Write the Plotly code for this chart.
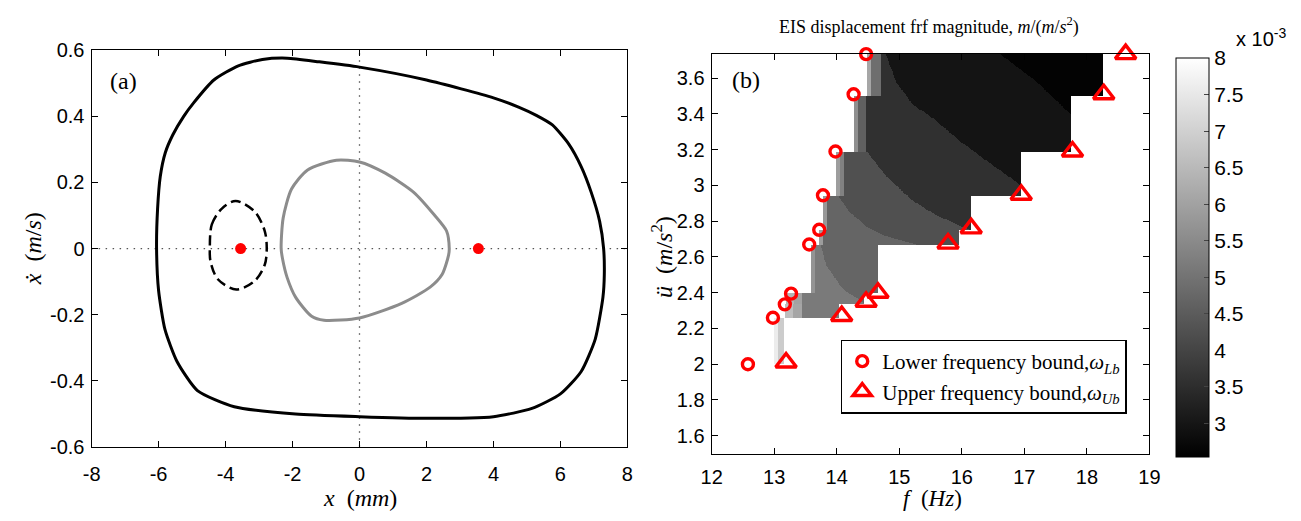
import numpy as np
import plotly.graph_objects as go

# ---------------- data: panel (a) phase portrait ----------------
outer_x = [-6.06, -6.03, -5.95, -5.8, -5.57, -5.25, -4.96, -4.35, -3.62, -2.9, -2.16, -1.2, 0.0, 2.0, 4.0,
           4.75, 5.28, 5.76, 6.25, 6.62, 6.92, 7.17, 7.29, 7.31, 7.27, 7.04, 6.62, 6.0, 5.15, 4.0, 2.0, 0.0,
           -1.91, -3.74, -4.84, -5.45, -5.81, -6.0, -6.06]
outer_y = [0.0, 0.12, 0.218, 0.29, 0.345, 0.40, 0.44, 0.51, 0.553, 0.572, 0.576, 0.565, 0.549, 0.51, 0.456,
           0.428, 0.403, 0.374, 0.316, 0.248, 0.17, 0.083, 0.0, -0.08, -0.147, -0.274, -0.372, -0.44, -0.484, -0.509, -0.514, -0.509,
           -0.501, -0.479, -0.43, -0.342, -0.245, -0.127, 0.0]

gray_x = [-2.34, -2.28, -2.03, -1.55, -0.69, 0.0, 0.77, 1.62, 2.23, 2.6, 2.68, 2.66, 2.47, 2.11, 1.26, 0.0,
          -1.06, -1.43, -1.91, -2.16, -2.3, -2.34]
gray_y = [0.0, 0.092, 0.18, 0.238, 0.267, 0.262, 0.228, 0.17, 0.102, 0.053, 0.0, -0.02, -0.078, -0.117, -0.166, -0.21,
          -0.217, -0.205, -0.147, -0.088, -0.03, 0.0]

dash_x = [-4.47, -4.41, -4.11, -3.70, -3.13, -2.83, -2.77, -2.83, -3.13, -3.68, -4.23, -4.45, -4.47]
dash_y = [0.0, 0.073, 0.121, 0.144, 0.112, 0.053, 0.0, -0.049, -0.098, -0.124, -0.093, -0.039, 0.0]

eq_x = [-3.55, 3.55]
eq_y = [0.0, 0.0]

a_xticks = [-8, -6, -4, -2, 0, 2, 4, 6, 8]
a_xlabels = ["-8", "-6", "-4", "-2", "0", "2", "4", "6", "8"]
a_yticks = [-0.6, -0.4, -0.2, 0, 0.2, 0.4, 0.6]
a_ylabels = ["-0.6", "-0.4", "-0.2", "0", "0.2", "0.4", "0.6"]

# ---------------- data: panel (b) ----------------
lower_f = [12.58, 12.98, 13.17, 13.27, 13.56, 13.72, 13.78, 13.98, 14.27, 14.47]
lower_u = [2.00, 2.26, 2.335, 2.395, 2.67, 2.752, 2.945, 3.19, 3.51, 3.735]
upper_f = [13.19, 14.08, 14.47, 14.66, 15.78, 16.15, 16.95, 17.77, 18.27, 18.62]
upper_u = [2.01, 2.27, 2.35, 2.40, 2.675, 2.76, 2.948, 3.19, 3.51, 3.735]

# stair-shaped surface: row limits (amplitude levels) and frequency extent of each row
row_levels = [2.00, 2.26, 2.34, 2.40, 2.67, 2.75, 2.94, 3.19, 3.50, 3.735]
row_left = [13.00, 13.18, 13.20, 13.60, 13.73, 13.79, 14.00, 14.29, 14.49]
row_right = [13.17, 14.05, 14.45, 14.66, 15.97, 16.16, 16.96, 17.76, 18.27]

# light strips at the left edge of each row: (end frequency, value x1e-3)
row_strips = [
    [(13.06, 7.6), (13.17, 6.9)],
    [(13.30, 6.6), (13.45, 6.1)],
    [(13.32, 6.4), (13.45, 6.0)],
    [(13.66, 5.7)],
    [(13.78, 5.9)],
    [(13.85, 5.8)],
    [(14.06, 5.9), (14.12, 5.3)],
    [(14.34, 5.6), (14.47, 4.6)],
    [(14.56, 6.1), (14.72, 4.9)],
]

# band boundaries (frequency of the boundary at given amplitude), left to right
c5_u = [2.34, 2.37, 2.42, 2.55, 2.672]
c5_f = [14.45, 14.32, 14.10, 13.84, 13.74]
c4_u = [2.67, 2.71, 2.76, 2.85, 2.957]
c4_f = [15.30, 14.84, 14.52, 14.21, 14.00]
c3_u = [2.74, 2.836, 2.92, 3.05, 3.20, 3.50, 3.735]
c3_f = [16.20, 15.58, 15.20, 14.80, 14.46, 14.47, 14.50]
c2_u = [3.00, 3.136, 3.25, 3.368, 3.457, 3.58, 3.735]
c2_f = [16.96, 16.41, 15.97, 15.57, 15.21, 14.95, 14.79]
c1_u = [3.386, 3.58, 3.735]
c1_f = [17.78, 17.20, 16.62]
band_values = [5.15, 4.70, 4.25, 3.57, 2.97, 2.60]   # x1e-3, from left band to right band

b_xticks = [12, 13, 14, 15, 16, 17, 18, 19]
b_yticks = [1.6, 1.8, 2.0, 2.2, 2.4, 2.6, 2.8, 3.0, 3.2, 3.4, 3.6]
b_ylabels = ["1.6", "1.8", "2", "2.2", "2.4", "2.6", "2.8", "3", "3.2", "3.4", "3.6"]
cb_ticks = [3, 3.5, 4, 4.5, 5, 5.5, 6, 6.5, 7, 7.5, 8]
cb_labels = ["3", "3.5", "4", "4.5", "5", "5.5", "6", "6.5", "7", "7.5", "8"]
z_min, z_max = 2.54, 8.0

# ---------------- raster of the surface ----------------
fgrid = np.round(np.arange(12.95, 18.35, 0.01), 3)
ugrid = np.round(np.arange(1.9975, 3.74, 0.005), 4)
F, U = np.meshgrid(fgrid, ugrid)
Z = np.full(F.shape, np.nan)
bounds = [np.interp(U, cu, cf) for cu, cf in
          [(c5_u, c5_f), (c4_u, c4_f), (c3_u, c3_f), (c2_u, c2_f), (c1_u, c1_f)]]
idx = sum((F > b).astype(int) for b in bounds)
bandz = np.array(band_values)[idx]
for r in range(len(row_left)):
    inrow = (U >= row_levels[r]) & (U < row_levels[r + 1]) & (F >= row_left[r]) & (F < row_right[r])
    vals = bandz.copy()
    prev = row_left[r]
    for end, v in row_strips[r]:
        vals = np.where((F >= prev) & (F < end), v, vals)
        prev = end
    Z = np.where(inrow, vals, Z)
Zl = [[None if np.isnan(v) else float(v) for v in row] for row in Z]

# ---------------- figure ----------------
W, H = 1301, 521
def px(x): return x / W
def py(y): return 1 - y / H

fig = go.Figure()
sans = "Liberation Sans, Arial, sans-serif"
serif = "Liberation Serif, Times New Roman, serif"
dotline = dict(color="#555555", width=1.3, dash="1.5px,5.5px")

# panel (a)
fig.add_trace(go.Scatter(x=[-8, 8], y=[0, 0], mode="lines", line=dotline,
                         xaxis="x", yaxis="y", showlegend=False, hoverinfo="skip"))
fig.add_trace(go.Scatter(x=[0, 0], y=[-0.6, 0.6], mode="lines", line=dotline,
                         xaxis="x", yaxis="y", showlegend=False, hoverinfo="skip"))
fig.add_trace(go.Scatter(x=outer_x, y=outer_y, mode="lines", line=dict(color="black", width=3, shape="spline", smoothing=0.6),
                         xaxis="x", yaxis="y", showlegend=False))
fig.add_trace(go.Scatter(x=gray_x, y=gray_y, mode="lines", line=dict(color="#8c8c8c", width=3, shape="spline", smoothing=0.7),
                         xaxis="x", yaxis="y", showlegend=False))
fig.add_trace(go.Scatter(x=dash_x, y=dash_y, mode="lines", line=dict(color="black", width=2.5, dash="10px,5px", shape="spline", smoothing=0.9),
                         xaxis="x", yaxis="y", showlegend=False))
fig.add_trace(go.Scatter(x=eq_x, y=eq_y, mode="markers", marker=dict(color="red", size=11, symbol="circle"),
                         xaxis="x", yaxis="y", showlegend=False))

# panel (b)
fig.add_trace(go.Heatmap(x=fgrid, y=ugrid, z=Zl, zmin=z_min, zmax=z_max, zsmooth=False,
                         colorscale=[[0, "black"], [1, "white"]], xaxis="x2", yaxis="y2",
                         hoverongaps=False,
                         colorbar=dict(x=px(1185), xanchor="left", xpad=0, ypad=0, thickness=33,
                                       len=(466 - 49) / H, lenmode="fraction", y=py((49 + 466) / 2), yanchor="middle",
                                       outlinecolor="black", outlinewidth=1, ticks="inside", ticklen=5,
                                       tickvals=cb_ticks, ticktext=cb_labels,
                                       tickfont=dict(family=sans, size=21, color="black"))))
fig.add_trace(go.Scatter(x=lower_f, y=lower_u, mode="markers", xaxis="x2", yaxis="y2",
                         marker=dict(symbol="circle-open", size=11, color="red", line=dict(width=3.4, color="red")),
                         name="Lower frequency bound,<i>ω</i><sub><i>Lb</i></sub>", cliponaxis=False))
fig.add_trace(go.Scatter(x=upper_f, y=upper_u, mode="markers", xaxis="x2", yaxis="y2",
                         marker=dict(symbol="triangle-up-open", size=18, color="red", line=dict(width=3.4, color="red")),
                         name="Upper frequency bound,<i>ω</i><sub><i>Ub</i></sub>", cliponaxis=False))

axis_common = dict(showline=True, linecolor="black", linewidth=1.2, mirror="ticks", ticks="inside", ticklen=6,
                   tickcolor="black", showgrid=False, zeroline=False,
                   tickfont=dict(family=sans, size=20, color="black"))
fig.update_layout(
    width=W, height=H, margin=dict(l=0, r=0, t=0, b=0),
    paper_bgcolor="white", plot_bgcolor="white",
    xaxis=dict(domain=[px(82), px(627)], range=[-8, 8], tickvals=a_xticks, ticktext=a_xlabels, anchor="y",
               ticklabelstandoff=9, **axis_common),
    yaxis=dict(domain=[py(455), py(41)], range=[-0.6, 0.6], tickvals=a_yticks, ticktext=a_ylabels, anchor="x",
               ticklabelstandoff=2, **axis_common),
    xaxis2=dict(domain=[px(712.7), px(1158)], range=[12, 19], tickvals=b_xticks, anchor="y2",
                ticklabelstandoff=5, **axis_common),
    yaxis2=dict(domain=[py(462.7), py(45)], range=[1.497, 3.735], tickvals=b_yticks, ticktext=b_ylabels, anchor="x2",
                ticklabelstandoff=2, **axis_common),
    legend=dict(x=px(844), y=py(343), xanchor="left", yanchor="top", bgcolor="white", bordercolor="black",
                borderwidth=1.5, font=dict(family=serif, size=21, color="black"), tracegroupgap=6, itemwidth=30),
    showlegend=True,
)

ann = [
    dict(text="(a)", x=px(99), y=py(73), xanchor="left", yanchor="middle", font=dict(family=serif, size=24)),
    dict(text="(b)", x=px(731), y=py(72), xanchor="left", yanchor="middle", font=dict(family=serif, size=24)),
    dict(text="<i>x</i>  (<i>mm</i>)", x=px(355), y=py(508), xanchor="center", yanchor="middle", font=dict(family=serif, size=24)),
    dict(text="<i>f</i>  (<i>Hz</i>)", x=px(937), y=py(509), xanchor="center", yanchor="middle", font=dict(family=serif, size=23)),
    dict(text="<i>ẋ</i>  (<i>m</i>/<i>s</i>)", x=px(22), y=py(248), xanchor="center", yanchor="middle", textangle=-90,
         font=dict(family=serif, size=24)),
    dict(text="<i>ü</i>  (<i>m</i>/<i>s</i><sup>2</sup>)", x=px(662), y=py(257), xanchor="center", yanchor="middle", textangle=-90,
         font=dict(family=serif, size=24)),
    dict(text="EIS displacement frf magnitude, <i>m</i>/(<i>m</i>/<i>s</i><sup>2</sup>)", x=px(934), y=py(16),
         xanchor="center", yanchor="middle", font=dict(family=serif, size=18)),
    dict(text="x 10<sup>-3</sup>", x=px(1244), y=py(28), xanchor="left", yanchor="middle", font=dict(family=sans, size=20)),
]
for a in ann:
    a.update(xref="paper", yref="paper", showarrow=False)
    a["font"]["color"] = "black"
fig.update_layout(annotations=ann)

fig.write_html("out.html")
